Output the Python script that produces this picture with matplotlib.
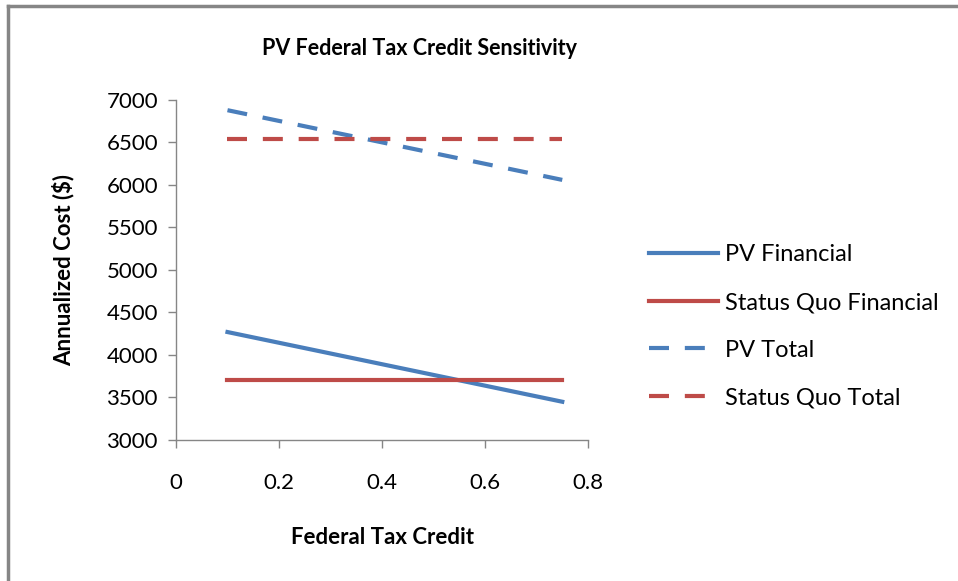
import matplotlib
matplotlib.use("Agg")
import matplotlib.pyplot as plt
from matplotlib.lines import Line2D

plt.rcParams['font.family'] = ['Lato', 'DejaVu Sans']

# data
x_credit = [0.1, 0.75]
pv_financial = [4270, 3450]
sq_financial = [3700, 3700]
pv_total = [6880, 6060]
sq_total = [6540, 6540]

blue = '#4A7EBB'
red = '#BE4B48'
grey = '#868686'

fig = plt.figure(figsize=(9.58, 5.81), dpi=100)
ax = fig.add_axes([0.1837, 0.2427, 0.4301, 0.5852])

ax.plot(x_credit, pv_financial, color=blue, lw=3, label='PV Financial')
ax.plot(x_credit, sq_financial, color=red, lw=3, label='Status Quo Financial')
ax.plot(x_credit, pv_total, color=blue, lw=3, dashes=(4.8, 3.8), label='PV Total')
ax.plot(x_credit, sq_total, color=red, lw=3, dashes=(4.8, 3.8), label='Status Quo Total')

ax.set_xlim(0, 0.8)
ax.set_ylim(3000, 7000)
ax.set_xticks([0, 0.2, 0.4, 0.6, 0.8])
ax.set_xticklabels(['0', '0.2', '0.4', '0.6', '0.8'])
ax.set_yticks(range(3000, 7001, 500))

for s in ['top', 'right']:
    ax.spines[s].set_visible(False)
for s in ['left', 'bottom']:
    ax.spines[s].set_color(grey)
    ax.spines[s].set_linewidth(1)
ax.tick_params(axis='both', colors=grey, labelcolor='black', labelsize=16, length=6, width=1)
ax.tick_params(axis='x', pad=18)
ax.tick_params(axis='y', pad=7)

ax.set_xlabel('Federal Tax Credit', fontsize=16, fontweight='bold', labelpad=24)
ax.set_ylabel('Annualized Cost ($)', fontsize=16, fontweight='bold', labelpad=23)

fig.text(0.438, 0.916, 'PV Federal Tax Credit Sensitivity', ha='center', va='center',
         fontsize=15.5, fontweight='bold')

fig.legend(loc='upper left', bbox_to_anchor=(0.6555, 0.616), frameon=False,
           fontsize=17, handlelength=2.9, handletextpad=0.3, labelspacing=1.13)

# chart-area border (only left and top visible in the crop)
fig.add_artist(Line2D([0.0085, 0.0085], [0, 0.99], color=grey, lw=2.5, transform=fig.transFigure))
fig.add_artist(Line2D([0.0085, 1], [0.99, 0.99], color=grey, lw=2.5, transform=fig.transFigure))

fig.savefig('out.png', dpi=100)
